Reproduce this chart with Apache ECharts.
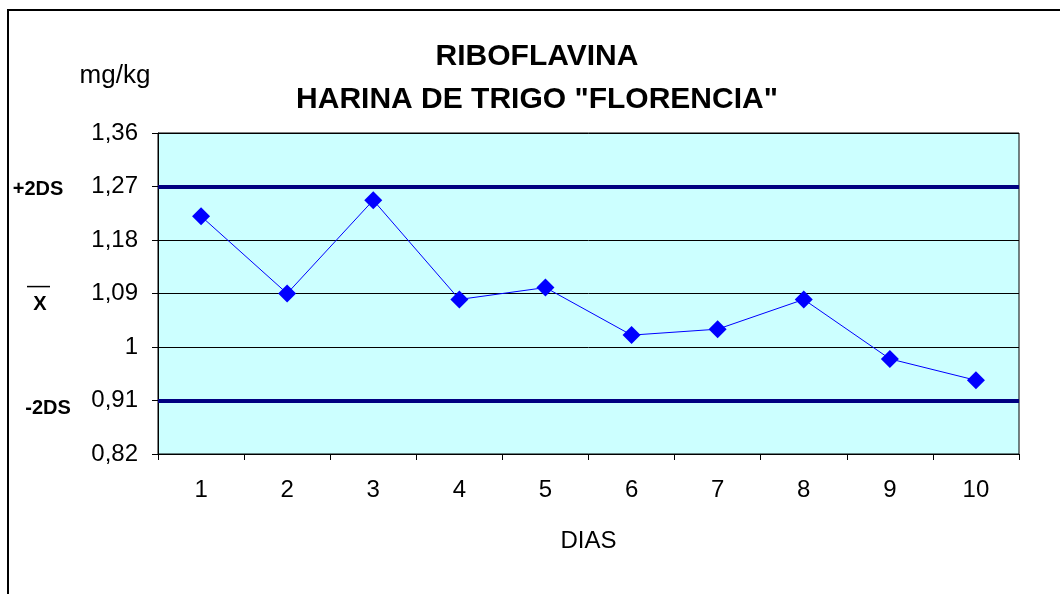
<!DOCTYPE html>
<html>
<head>
<meta charset="utf-8">
<script src="https://cdn.jsdelivr.net/npm/echarts@6/dist/echarts.min.js"></script>
<style>
html,body{margin:0;padding:0;background:#fff;}
#c{width:1060px;height:594px;}
</style>
</head>
<body>
<div id="c"></div>
<script>
var categories = ['1','2','3','4','5','6','7','8','9','10'];
var values = [1.22, 1.09, 1.247, 1.08, 1.10, 1.02, 1.03, 1.08, 0.98, 0.944];
var upperLimit = 1.266;   // +2DS
var lowerLimit = 0.907;   // -2DS
var meanValue = 1.0865;   // X̄
var yMin = 0.82, yMax = 1.36, yStep = 0.09;

var FONT = '"Liberation Sans", Arial, sans-serif';
var chart = echarts.init(document.getElementById('c'), null, {renderer: 'canvas'});

function fmt(v){ return String(Math.round(v*100)/100).replace('.', ','); }

var option = {
  animation: false,
  backgroundColor: '#ffffff',
  title: {
    text: 'RIBOFLAVINA\nHARINA DE TRIGO "FLORENCIA"',
    left: 532, top: 30, textAlign: 'center',
    textStyle: {fontFamily: FONT, fontWeight: 'bold', fontSize: 30, color: '#000', lineHeight: 43}
  },
  grid: {left: 158, right: 41, top: 133, bottom: 140, show: true, backgroundColor: '#CCFFFF', borderColor: '#000', borderWidth: 1},
  xAxis: {
    type: 'category', data: categories, boundaryGap: true,
    name: 'DIAS', nameLocation: 'middle', nameGap: 75,
    nameTextStyle: {fontFamily: FONT, fontSize: 24, color: '#000'},
    axisLine: {lineStyle: {color: '#000', width: 1}},
    axisTick: {show: true, length: 6, inside: false, lineStyle: {color: '#000'}},
    axisLabel: {fontFamily: FONT, fontSize: 24, color: '#000', margin: 24},
    splitLine: {show: false}
  },
  yAxis: {
    type: 'value', min: yMin, max: yMax, interval: yStep,
    axisLine: {show: true, lineStyle: {color: '#000', width: 1}},
    axisTick: {show: true, length: 6, lineStyle: {color: '#000'}},
    axisLabel: {fontFamily: FONT, fontSize: 24, color: '#000', margin: 20, formatter: function(v){ return fmt(v); }},
    splitLine: {show: true, lineStyle: {color: '#000', width: 1}}
  },
  series: [{
    type: 'line', data: values,
    symbol: 'diamond', symbolSize: 18,
    lineStyle: {color: '#0000FF', width: 1},
    itemStyle: {color: '#0000FF'},
    z: 5,
    markLine: {
      silent: true, symbol: 'none', label: {show: false},
      lineStyle: {color: '#000080', width: 4, type: 'solid'},
      data: [{yAxis: upperLimit}, {yAxis: lowerLimit}]
    }
  }]
};
chart.setOption(option);

var yU = chart.convertToPixel({yAxisIndex: 0}, upperLimit);
var yL = chart.convertToPixel({yAxisIndex: 0}, lowerLimit);
var yM = chart.convertToPixel({yAxisIndex: 0}, meanValue);
var labStyle = {fontFamily: FONT, fontSize: 20, fontWeight: 'bold', fill: '#000'};
chart.setOption({
  graphic: [
    {type: 'rect', shape: {x: 8, y: 10, width: 1100, height: 700}, style: {fill: 'none', stroke: '#000', lineWidth: 2}, z: 100},
    {type: 'text', x: 115, y: 76, style: {text: 'mg/kg', align: 'center', verticalAlign: 'middle', fontFamily: FONT, fontSize: 26, fill: '#000'}},
    {type: 'text', x: 38, y: yU + 1, style: Object.assign({text: '+2DS', align: 'center', verticalAlign: 'middle'}, labStyle)},
    {type: 'text', x: 48, y: yL + 6, style: Object.assign({text: '-2DS', align: 'center', verticalAlign: 'middle'}, labStyle)},
    {type: 'text', x: 40, y: yM + 9, style: Object.assign({text: 'X', align: 'center', verticalAlign: 'middle'}, labStyle)},
    {type: 'line', shape: {x1: 27, y1: yM - 9, x2: 50, y2: yM - 9}, style: {stroke: '#000', lineWidth: 1.5}}
  ]
});
</script>
</body>
</html>
